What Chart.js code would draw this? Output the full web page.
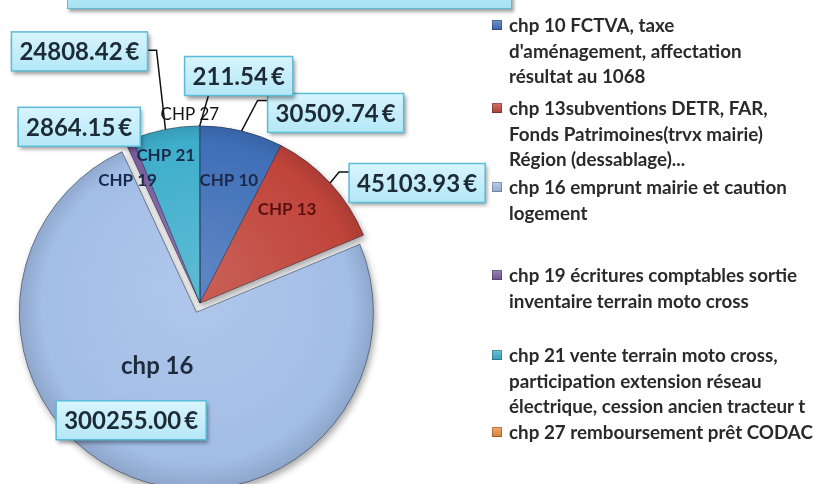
<!DOCTYPE html>
<html>
<head>
<meta charset="utf-8">
<title>Recettes investissement</title>
<script src="https://cdn.jsdelivr.net/npm/chart.js@4.4.1/dist/chart.umd.min.js"></script>
<style>
    html, body { margin: 0; padding: 0; background: #fff; }
    body { width: 829px; height: 484px; position: relative; overflow: hidden; font-family: Lato, 'Open Sans', sans-serif; }
    #chart { position: absolute; left: 0; top: 0; }
    .title-box {
        position: absolute; left: 67px; top: -30px; width: 443px; height: 37px;
        background: linear-gradient(#d6f4fc, #a6e2f3);
        border: 1px solid #5cbcd8;
        box-shadow: 2px 3px 3px rgba(0, 0, 0, 0.35);
    }
    .leg-item { position: absolute; left: 492px; }
    .leg-mark {
        position: absolute; left: 0; width: 10px; height: 10px;
        box-shadow: inset 0 0 0 1px rgba(0, 0, 0, 0.25);
    }
    .leg-text {
        position: absolute; left: 17px; top: 0;
        white-space: pre; font-weight: bold; font-size: 18.8px; color: #2a2a2a;
    }
</style>
</head>
<body>
<div class="title-box"></div>
<canvas id="chart" width="829" height="484"></canvas>
<div id="legend"></div>

<script>
// Data
const categories = [
    "chp 10 FCTVA, taxe\nd'aménagement, affectation\nrésultat au 1068",
    "chp 13subventions DETR, FAR,\nFonds Patrimoines(trvx mairie)\nRégion (dessablage)...",
    "chp 16 emprunt mairie et caution\nlogement",
    "chp 19 écritures comptables sortie\ninventaire terrain moto cross",
    "chp 21 vente terrain moto cross,\nparticipation extension réseau\nélectrique, cession ancien tracteur t",
    "chp 27 remboursement prêt CODAC"
];
const shortLabels = ['CHP 10', 'CHP 13', 'chp 16', 'CHP 19', 'CHP 21', 'CHP 27'];
const values = [30509.74, 45103.93, 300255.00, 2864.15, 24808.42, 211.54];
const colors = ['#3f6fb8', '#c0443a', '#a2bde6', '#7a5c9e', '#3eaecb', '#f08c3a'];

// Layout / style
const pieRadius = 177;
const explode = [0, 0, 10, 0, 0, 0];
const LINE_H = 25.5;
const legendTops = [25, 108, 187, 275, 355, 432];

// value boxes: centre offset from the slice's outer mid point, leader side
const valueLayout = [
    { dx: 94, dy: -18, side: 'left', at: 0.18 },
    { dx: 87, dy: 0, side: 'left', at: 0.22 },
    { dx: -1, dy: -57, side: null },
    { dx: -50, dy: -14, side: null },
    { dx: -86, dy: -78, side: 'right', at: 0.47 },
    { dx: 39, dy: -50, side: 'bottom', at: 0.22 }
];
// slice names: offset from the slice centroid
const nameLayout = [
    { dx: 8, dy: -36, font: 'bold 17px Lato', color: '#1b2a4a' },
    { dx: 22, dy: -33, font: 'bold 17px Lato', color: '#5a1010' },
    { dx: -7, dy: -29, font: 'bold 24px Lato', color: '#1e2b3c' },
    { dx: -37, dy: -41, font: 'bold 17px Lato', color: '#1b2a4a' },
    { dx: -17, dy: -61, font: 'bold 17px Lato', color: '#1b2a4a' },
    { dx: -10, dy: -100, font: '17px Lato', color: '#111' }
];

// Helpers
function shade(hex, amt) {
    const n = parseInt(hex.slice(1), 16);
    let r = n >> 16, g = (n >> 8) & 255, b = n & 255;
    const t = amt < 0 ? 0 : 255, p = Math.abs(amt);
    r = Math.round(r + (t - r) * p);
    g = Math.round(g + (t - g) * p);
    b = Math.round(b + (t - b) * p);
    return `rgb(${r},${g},${b})`;
}

function sliceFill(c) {
    const chart = c.chart;
    const area = chart.chartArea;
    const base = colors[c.dataIndex];
    if (!area) return base;
    const cx = (area.left + area.right) / 2;
    const cy = (area.top + area.bottom) / 2;
    const g = chart.ctx.createRadialGradient(cx, cy - 30, 0, cx, cy, pieRadius + 12);
    g.addColorStop(0, shade(base, 0.15));
    g.addColorStop(0.82, base);
    g.addColorStop(1, shade(base, -0.18));
    return g;
}

function fmt(v) {
    return v.toFixed(2) + '\u2009€';
}

// Pie drawing: exploded slice + drop shadow, then labels
const pieDecor = {
    id: 'pieDecor',
    beforeDatasetDraw(chart, args) {
        const ctx = chart.ctx;
        const arcs = args.meta.data;
        [true, false].forEach(withShadow => {
            arcs.forEach((arc, i) => {
                const mid = (arc.startAngle + arc.endAngle) / 2;
                ctx.save();
                ctx.translate(Math.cos(mid) * explode[i], Math.sin(mid) * explode[i]);
                if (withShadow) {
                    ctx.shadowColor = 'rgba(0,0,0,0.35)';
                    ctx.shadowBlur = 7;
                    ctx.shadowOffsetX = 2;
                    ctx.shadowOffsetY = 4;
                }
                arc.draw(ctx);
                ctx.restore();
            });
        });
        return false;
    },
    afterDatasetsDraw(chart) {
        const ctx = chart.ctx;
        const arcs = chart.getDatasetMeta(0).data;

        // slice names
        arcs.forEach((arc, i) => {
            const mid = (arc.startAngle + arc.endAngle) / 2;
            const r = arc.outerRadius / 2 + explode[i];
            const L = nameLayout[i];
            ctx.save();
            ctx.font = L.font;
            ctx.fillStyle = L.color;
            ctx.textAlign = 'center';
            ctx.textBaseline = 'middle';
            ctx.fillText(shortLabels[i], arc.x + Math.cos(mid) * r + L.dx, arc.y + Math.sin(mid) * r + L.dy);
            ctx.restore();
        });

        // value boxes with leader lines
        arcs.forEach((arc, i) => {
            const mid = (arc.startAngle + arc.endAngle) / 2;
            const r = arc.outerRadius + explode[i];
            const ax = arc.x + Math.cos(mid) * r;
            const ay = arc.y + Math.sin(mid) * r;
            const L = valueLayout[i];
            const text = fmt(values[i]);

            ctx.save();
            ctx.font = 'bold 24px Lato';
            const w = ctx.measureText(text).width + 16;
            const h = 39;
            const bx = ax + L.dx - w / 2;
            const by = ay + L.dy - h / 2;

            if (L.side) {
                ctx.strokeStyle = '#111';
                ctx.lineWidth = 1.5;
                ctx.beginPath();
                if (L.side === 'left') {
                    const sy = by + h * L.at;
                    ctx.moveTo(bx, sy);
                    ctx.lineTo(bx - 10, sy);
                } else if (L.side === 'right') {
                    const sy = by + h * L.at;
                    ctx.moveTo(bx + w, sy);
                    ctx.lineTo(bx + w + 9, sy);
                } else {
                    ctx.moveTo(bx + w * L.at, by + h);
                }
                ctx.lineTo(ax, ay);
                ctx.stroke();
            }

            ctx.shadowColor = 'rgba(0,0,0,0.4)';
            ctx.shadowBlur = 4;
            ctx.shadowOffsetX = 2;
            ctx.shadowOffsetY = 3;
            const g = ctx.createLinearGradient(0, by, 0, by + h);
            g.addColorStop(0, '#d8f5fd');
            g.addColorStop(1, '#b4e7f7');
            ctx.fillStyle = g;
            ctx.fillRect(bx, by, w, h);
            ctx.shadowColor = 'transparent';
            ctx.strokeStyle = '#5cbcd8';
            ctx.lineWidth = 1.5;
            ctx.strokeRect(bx, by, w, h);

            ctx.fillStyle = '#1c2b36';
            ctx.textAlign = 'center';
            ctx.textBaseline = 'middle';
            ctx.fillText(text, bx + w / 2, by + h / 2 + 1);
            ctx.restore();
        });
    }
};

new Chart(document.getElementById('chart'), {
    type: 'pie',
    data: {
        labels: categories,
        datasets: [{
            data: values,
            backgroundColor: sliceFill,
            borderColor: 'rgba(30,40,60,0.35)',
            borderWidth: 1,
            clip: false
        }]
    },
    options: {
        responsive: false,
        animation: false,
        radius: pieRadius,
        layout: { padding: { left: 0, right: 429, top: 122, bottom: 0 } },
        plugins: {
            legend: { display: false },
            tooltip: { enabled: false }
        }
    },
    plugins: [pieDecor]
});

// Legend
const legend = document.getElementById('legend');
categories.forEach((label, i) => {
    const item = document.createElement('div');
    item.className = 'leg-item';
    item.style.top = (legendTops[i] - LINE_H / 2) + 'px';

    const mark = document.createElement('div');
    mark.className = 'leg-mark';
    mark.style.top = ((LINE_H - 10) / 2) + 'px';
    mark.style.background = `linear-gradient(${shade(colors[i], 0.25)}, ${shade(colors[i], -0.1)})`;

    const text = document.createElement('div');
    text.className = 'leg-text';
    text.style.lineHeight = LINE_H + 'px';
    text.textContent = label;

    item.appendChild(mark);
    item.appendChild(text);
    legend.appendChild(item);
});
</script>
</body>
</html>
